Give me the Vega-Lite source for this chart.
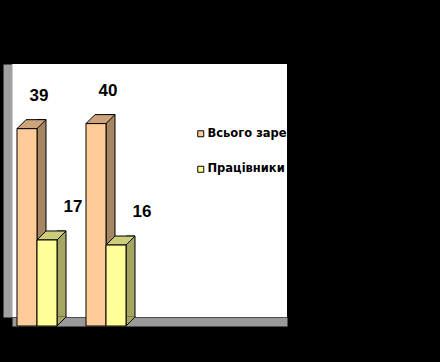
{
  "$schema": "https://vega.github.io/schema/vega-lite/v6.json",
  "width": 275,
  "height": 253,
  "autosize": {"type": "none"},
  "padding": {"left": 12, "top": 64, "right": 153, "bottom": 45},
  "background": "black",
  "config": {
    "view": {"fill": "white", "stroke": null},
    "axis": {"grid": false},
    "legend": {
      "title": null,
      "padding": 0,
      "symbolType": "square",
      "symbolSize": 36,
      "symbolStrokeColor": "black",
      "symbolStrokeWidth": 1,
      "symbolOpacity": 1,
      "labelFont": "DejaVu Sans",
      "labelFontWeight": "bold",
      "labelFontSize": 11.5,
      "labelColor": "black",
      "labelOffset": 1,
      "labelLimit": 0,
      "rowPadding": 22.5
    }
  },
  "data": {
    "values": [
      {"group": "1", "series": "Всього зареєстровано", "value": 39},
      {"group": "1", "series": "Працівники", "value": 17},
      {"group": "2", "series": "Всього зареєстровано", "value": 40},
      {"group": "2", "series": "Працівники", "value": 16}
    ]
  },
  "encoding": {
    "x": {
      "field": "group",
      "type": "nominal",
      "sort": null,
      "scale": {"type": "band", "paddingInner": 0.01449, "paddingOuter": 1, "align": 0, "round": false},
      "axis": {"labels": false, "ticks": false, "title": null, "domainColor": "#999999", "domainWidth": 9, "offset": 4.5}
    },
    "y": {
      "field": "value",
      "type": "quantitative",
      "scale": {"domain": [0, 50], "nice": false},
      "axis": {"labels": false, "ticks": false, "title": null, "domainColor": "#a0a0a0", "domainWidth": 9, "offset": 4.5}
    }
  },
  "layer": [
    {
      "transform": [{"filter": "datum.series === 'Всього зареєстровано'"}],
      "mark": {"type": "bar", "width": 9, "xOffset": -4.5, "fill": "#A68563", "stroke": "black", "strokeWidth": 1}
    },
    {
      "transform": [{"filter": "datum.series === 'Всього зареєстровано'"}],
      "mark": {"type": "point", "shape": "M10,-0.5L10,0L1,9L1,-0.5", "size": 4, "filled": true, "fill": "#A68563", "stroke": "black", "strokeWidth": 1, "opacity": 1, "xOffset": -10},
      "encoding": {"y": {"datum": 0, "type": "quantitative"}}
    },
    {
      "transform": [{"filter": "datum.series === 'Всього зареєстровано'"}],
      "mark": {"type": "point", "shape": "M-10,0L10,0L1,9L-19,9Z", "size": 4, "filled": true, "fill": "#CCA37A", "stroke": "black", "strokeWidth": 1, "opacity": 1, "xOffset": -10}
    },
    {
      "transform": [{"filter": "datum.series === 'Всього зареєстровано'"}],
      "mark": {"type": "bar", "width": 20, "xOffset": -19, "yOffset": 9, "y2Offset": 9, "stroke": "black", "strokeWidth": 1, "opacity": 1},
      "encoding": {
        "color": {
          "field": "series",
          "type": "nominal",
          "scale": {"domain": ["Всього зареєстровано", "Працівники"], "range": ["#FFCC99", "#FFFF99"]},
          "legend": {"orient": "none", "legendX": 183, "legendY": 64}
        }
      }
    },
    {
      "transform": [{"filter": "datum.series === 'Працівники'"}],
      "mark": {"type": "bar", "width": 9, "xOffset": 15.5, "fill": "#A6A663", "stroke": "black", "strokeWidth": 1}
    },
    {
      "transform": [{"filter": "datum.series === 'Працівники'"}],
      "mark": {"type": "point", "shape": "M10,-0.5L10,0L1,9L1,-0.5", "size": 4, "filled": true, "fill": "#A6A663", "stroke": "black", "strokeWidth": 1, "opacity": 1, "xOffset": 10},
      "encoding": {"y": {"datum": 0, "type": "quantitative"}}
    },
    {
      "transform": [{"filter": "datum.series === 'Працівники'"}],
      "mark": {"type": "point", "shape": "M-10,0L10,0L1,9L-19,9Z", "size": 4, "filled": true, "fill": "#CCCC7A", "stroke": "black", "strokeWidth": 1, "opacity": 1, "xOffset": 10}
    },
    {
      "transform": [{"filter": "datum.series === 'Працівники'"}],
      "mark": {"type": "bar", "width": 20, "xOffset": 1, "yOffset": 9, "y2Offset": 9, "stroke": "black", "strokeWidth": 1, "opacity": 1},
      "encoding": {
        "color": {
          "field": "series",
          "type": "nominal",
          "scale": {"domain": ["Всього зареєстровано", "Працівники"], "range": ["#FFCC99", "#FFFF99"]},
          "legend": {"orient": "none", "legendX": 183, "legendY": 64}
        }
      }
    },
    {
      "transform": [{"filter": "datum.series === 'Всього зареєстровано'"}],
      "mark": {"type": "text", "dx": -7, "dy": -24, "font": "Liberation Sans", "fontWeight": "bold", "fontSize": 17, "color": "black", "baseline": "middle", "align": "center"},
      "encoding": {"text": {"field": "value", "type": "quantitative"}}
    },
    {
      "transform": [{"filter": "datum.series === 'Працівники'"}],
      "mark": {"type": "text", "dx": 27, "dy": -24, "font": "Liberation Sans", "fontWeight": "bold", "fontSize": 17, "color": "black", "baseline": "middle", "align": "center"},
      "encoding": {"text": {"field": "value", "type": "quantitative"}}
    }
  ],
  "resolve": {"scale": {"color": "shared"}}
}
